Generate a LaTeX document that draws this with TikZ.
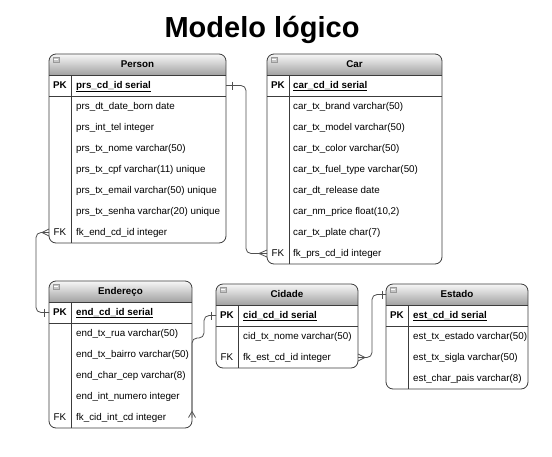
\documentclass[tikz,border=0pt]{standalone}
\usepackage{fontspec}
\setmainfont{Liberation Sans}
\usetikzlibrary{calc}
\definecolor{hdtop}{HTML}{F7F7F7}
\definecolor{hdbot}{HTML}{A2A2A2}
\definecolor{tblc}{HTML}{3C3C3C}
\definecolor{connc}{HTML}{505050}
\newcommand\fldfont{\fontsize{9.8pt}{11pt}\selectfont}
\newcommand\erframe[5]{%
  \begin{scope}
    \clip[rounded corners=7pt] (#1,#3) rectangle (#2,#4);
    \shade[top color=hdtop,bottom color=hdbot] (#1,#3) rectangle (#2,#3+21);
  \end{scope}
  \draw[tblline, rounded corners=7pt] (#1,#3) rectangle (#2,#4);
  \draw[tblline] (#1,#3+21) -- (#2,#3+21);
  \draw[tblline] (#1,#3+42) -- (#2,#3+42);
  \draw[tblline] (#5,#3+21) -- (#5,#4);
  \draw[iconbox] (#1+4,#3+3) rectangle (#1+10,#3+8);
  \draw[white, line width=0.6pt] (#1+5,#3+5.5) -- (#1+9,#3+5.5);
}
\begin{document}
\begin{tikzpicture}[x=1pt,y=-1pt,
  tblline/.style={draw=tblc, line width=0.8pt},
  iconbox/.style={draw=gray!80, fill=gray!45, line width=0.4pt},
  conn/.style={draw=connc, line width=0.8pt},
  fld/.style={anchor=west, inner sep=0pt, font=\fldfont, text height=7pt, text depth=2pt},
  keyl/.style={anchor=center, inner sep=0pt, font=\fldfont, text height=7pt, text depth=2pt},
  pkey/.style={keyl, font=\fldfont\bfseries},
  pkfld/.style={fld, font=\fldfont\bfseries},
  hdr/.style={inner sep=0pt, font=\fldfont\bfseries, text height=7pt, text depth=2pt},
  ttl/.style={inner sep=0pt, anchor=base, font=\fontsize{29pt}{34pt}\selectfont\bfseries}
]
\useasboundingbox[fill=white] (0,0) rectangle (552,456);

\node[ttl] (title) at (262,37) {Modelo lógico};

% ---------- Person ----------
\erframe{49}{226}{54}{243}{71}
\node[hdr] (person) at (137.5,64.5) {Person};
\node[pkey] (person-pk) at (60,85.5) {PK};
\node[pkfld] (person-pkf) at (76,85.5) {\underline{prs\_cd\_id serial}};
\node[fld] (person-f1) at (76,106.5) {prs\_dt\_date\_born date};
\node[fld] (person-f2) at (76,127.5) {prs\_int\_tel integer};
\node[fld] (person-f3) at (76,148.5) {prs\_tx\_nome varchar(50)};
\node[fld] (person-f4) at (76,169.5) {prs\_tx\_cpf varchar(11) unique};
\node[fld] (person-f5) at (76,190.5) {prs\_tx\_email varchar(50) unique};
\node[fld] (person-f6) at (76,211.5) {prs\_tx\_senha varchar(20) unique};
\node[keyl] (person-fk) at (60,232.5) {FK};
\node[fld] (person-f7) at (76,232.5) {fk\_end\_cd\_id integer};

% ---------- Car ----------
\erframe{267}{442}{54}{264}{289}
\node[hdr] (car) at (354.5,64.5) {Car};
\node[pkey] (car-pk) at (278,85.5) {PK};
\node[pkfld] (car-pkf) at (293,85.5) {\underline{car\_cd\_id serial}};
\node[fld] (car-f1) at (293,106.5) {car\_tx\_brand varchar(50)};
\node[fld] (car-f2) at (293,127.5) {car\_tx\_model varchar(50)};
\node[fld] (car-f3) at (293,148.5) {car\_tx\_color varchar(50)};
\node[fld] (car-f4) at (293,169.5) {car\_tx\_fuel\_type varchar(50)};
\node[fld] (car-f5) at (293,190.5) {car\_dt\_release date};
\node[fld] (car-f6) at (293,211.5) {car\_nm\_price float(10,2)};
\node[fld] (car-f7) at (293,232.5) {car\_tx\_plate char(7)};
\node[keyl] (car-fk) at (278,253.5) {FK};
\node[fld] (car-f8) at (293,253.5) {fk\_prs\_cd\_id integer};

% ---------- Endereco ----------
\erframe{49}{192}{281}{428}{71}
\node[hdr] (endereco) at (120.5,291.5) {Endereço};
\node[pkey] (end-pk) at (60,312.5) {PK};
\node[pkfld] (end-pkf) at (76,312.5) {\underline{end\_cd\_id serial}};
\node[fld] (end-f1) at (76,333.5) {end\_tx\_rua varchar(50)};
\node[fld] (end-f2) at (76,354.5) {end\_tx\_bairro varchar(50)};
\node[fld] (end-f3) at (76,375.5) {end\_char\_cep varchar(8)};
\node[fld] (end-f4) at (76,396.5) {end\_int\_numero integer};
\node[keyl] (end-fk) at (60,417.5) {FK};
\node[fld] (end-f5) at (76,417.5) {fk\_cid\_int\_cd integer};

% ---------- Cidade ----------
\erframe{216}{358}{284}{368}{238}
\node[hdr] (cidade) at (287,294.5) {Cidade};
\node[pkey] (cid-pk) at (227,315.5) {PK};
\node[pkfld] (cid-pkf) at (243,315.5) {\underline{cid\_cd\_id serial}};
\node[fld] (cid-f1) at (243,336.5) {cid\_tx\_nome varchar(50)};
\node[keyl] (cid-fk) at (227,357.5) {FK};
\node[fld] (cid-f2) at (243,357.5) {fk\_est\_cd\_id integer};

% ---------- Estado ----------
\erframe{386}{528}{284}{389}{408}
\node[hdr] (estado) at (457,294.5) {Estado};
\node[pkey] (est-pk) at (397,315.5) {PK};
\node[pkfld] (est-pkf) at (413,315.5) {\underline{est\_cd\_id serial}};
\node[fld] (est-f1) at (413,336.5) {est\_tx\_estado varchar(50)};
\node[fld] (est-f2) at (413,357.5) {est\_tx\_sigla varchar(50)};
\node[fld] (est-f3) at (413,378.5) {est\_char\_pais varchar(8)};

% ---------- connector end points ----------
\coordinate (personPKr) at (226,85.5);
\coordinate (personFKl) at (49,232.5);
\coordinate (carFKl) at (267,253.5);
\coordinate (endPKl) at (49,312.5);
\coordinate (endFKr) at (192,417.5);
\coordinate (cidPKl) at (216,315.5);
\coordinate (cidFKr) at (358,357.5);
\coordinate (estHl) at (386,294.5);

% Person (1) -- Car (N)
\draw[conn, rounded corners=5pt] (personPKr) -- ++(20,0) |- (carFKl);
\draw[conn] (personPKr) ++(6,-4) -- ++(0,8);
\draw[conn] (carFKl) ++(-8,0) -- ++(8,-3.5) (carFKl) ++(-8,0) -- ++(8,3.5);

% Endereco (1) -- Person (N)
\draw[conn, rounded corners=5pt] (personFKl) -- ++(-13,0) |- (endPKl);
\draw[conn] (personFKl) ++(-7,0) -- ++(7,-3.5) (personFKl) ++(-7,0) -- ++(7,3.5);
\draw[conn] (endPKl) ++(-5,-4) -- ++(0,8);

% Cidade (1) -- Endereco (N)
\draw[conn, rounded corners=5pt] (endFKr) -- ++(0,-79.5) -- ++(12,0) |- (cidPKl);
\draw[conn] (endFKr) ++(0,-6) -- ++(-3.5,6) (endFKr) ++(0,-6) -- ++(3.5,6);
\draw[conn] (cidPKl) ++(-5,-4) -- ++(0,8);

% Estado (1) -- Cidade (N)
\draw[conn, rounded corners=5pt] (cidFKr) -- ++(14,0) |- (estHl);
\draw[conn] (cidFKr) ++(7,0) -- ++(-7,-3.5) (cidFKr) ++(7,0) -- ++(-7,3.5);
\draw[conn] (estHl) ++(-4,-4) -- ++(0,8);
\end{tikzpicture}
\end{document}
